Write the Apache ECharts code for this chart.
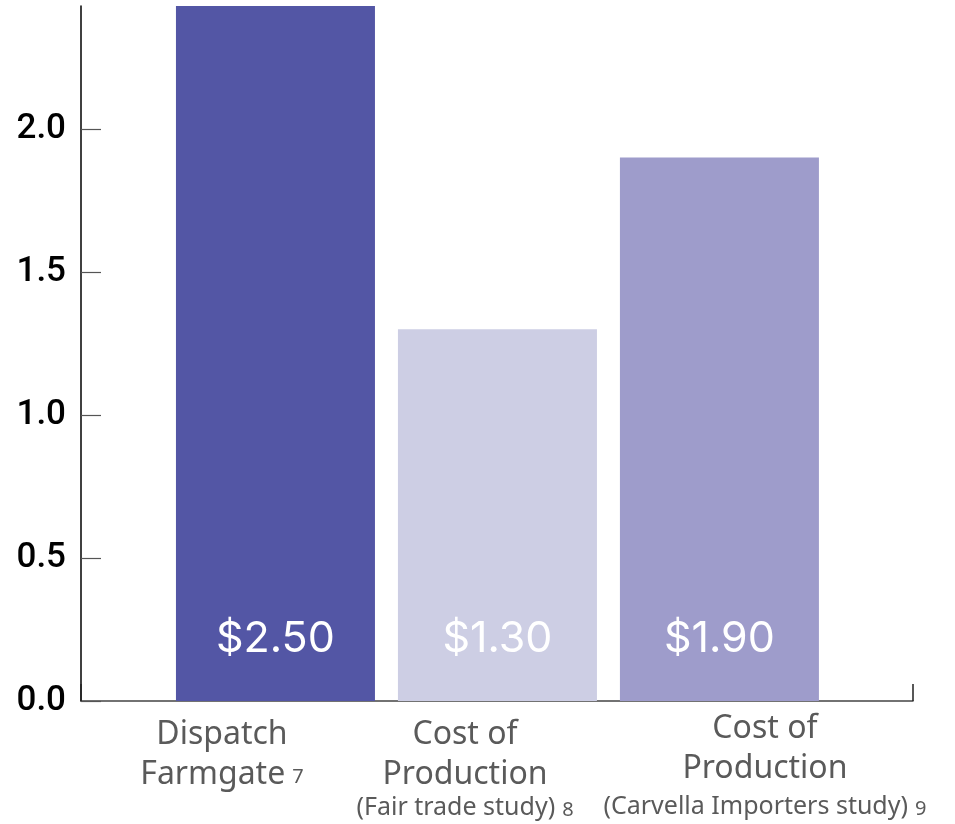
<!DOCTYPE html>
<html>
<head>
<meta charset="utf-8">
<script src="https://cdn.jsdelivr.net/npm/echarts@6/dist/echarts.min.js"></script>
<style>html,body{margin:0;padding:0;background:#fff}#c{width:955px;height:824px}</style>
</head>
<body>
<div id="c"></div>
<script>
const categories = ['Dispatch Farmgate', 'Cost of Production (Fair trade study)', 'Cost of Production (Carvella Importers study)'];
const labelLines = [['Dispatch', 'Farmgate'], ['Cost of', 'Production', '(Fair trade study)'], ['Cost of', 'Production', '(Carvella Importers study)']];
const footnotes = ['7', '8', '9'];
const values = [2.50, 1.30, 1.90];
const valueLabels = ['$2.50', '$1.30', '$1.90'];
const barColors = ['#5356A5', '#CDCEE4', '#9E9CCB'];
const yTicks = [0, 0.5, 1.0, 1.5, 2.0];

const labelAnchors = [-0.241, 0.854, 2.205];
const xMin = -0.876, xMax = 2.872;
// per-label line styles (rich keys)
const lineStyles = [['a1', 'a2'], ['a1', 'a2', 'b3'], ['c1', 'c2', 'c3']];

const chart = echarts.init(document.getElementById('c'), null, {renderer: 'canvas'});

function catLabel(i) {
  const lines = labelLines[i];
  const out = [];
  lines.forEach((t, k) => {
    const last = k === lines.length - 1;
    out.push('{' + lineStyles[i][k] + '|' + t + '}' + (last ? '{fn|' + footnotes[i] + '}' : ''));
  });
  return out.join('\n');
}

const mainFont = {fontFamily: 'Noto Sans', fontSize: 32, color: '#5a5a5a', align: 'center'};
const subFont = {fontFamily: 'Noto Sans', fontSize: 25, color: '#5a5a5a', align: 'center'};

chart.setOption({
  animation: false,
  grid: {left: 81, right: 42, top: 6, bottom: 123, containLabel: false, outerBoundsMode: 'none'},
  xAxis: {
    type: 'value', min: xMin, max: xMax, interval: xMax - xMin,
    splitLine: {show: false},
    axisLine: {show: true, onZero: false, lineStyle: {color: '#444', width: 1.5}},
    axisTick: {show: true, inside: true, length: 17, lineStyle: {color: '#222', width: 1.5}},
    axisLabel: {
      show: true,
      customValues: labelAnchors,
      margin: 14,
      formatter: function (v) {
        let idx = 0, best = 1e9;
        labelAnchors.forEach((a, i) => { if (Math.abs(a - v) < best) { best = Math.abs(a - v); idx = i; } });
        return catLabel(idx);
      },
      verticalAlign: 'top',
      rich: {
        a1: Object.assign({lineHeight: 40}, mainFont),
        a2: Object.assign({lineHeight: 40}, mainFont),
        b3: Object.assign({lineHeight: 26}, subFont),
        c1: Object.assign({lineHeight: 28}, mainFont),
        c2: Object.assign({lineHeight: 51}, mainFont),
        c3: Object.assign({lineHeight: 18}, subFont),
        fn: {fontFamily: 'Noto Sans', fontSize: 20, color: '#5a5a5a', lineHeight: 26, verticalAlign: 'middle', padding: [4, 0, 0, 7]}
      }
    }
  },
  yAxis: {
    type: 'value', min: 0, max: 2.43, interval: 0.5,
    splitLine: {show: false},
    axisLine: {show: true, onZero: false, lineStyle: {color: '#000', width: 1.5}},
    axisTick: {show: true, inside: true, length: 20, customValues: yTicks, lineStyle: {color: '#555', width: 1.2}},
    axisLabel: {
      margin: 15,
      customValues: yTicks,
      fontFamily: 'Roboto', fontWeight: 500, fontSize: 35, color: '#000',
      formatter: v => v.toFixed(1)
    }
  },
  series: [{
    type: 'bar',
    barWidth: 199,
    clip: true,
    data: values.map((v, i) => ({value: [i, v], itemStyle: {color: barColors[i]}})),
    label: {
      show: true,
      position: 'insideBottom',
      distance: 40,
      formatter: p => valueLabels[p.dataIndex],
      fontFamily: 'Inter', fontSize: 43, color: '#fff'
    }
  }]
});
</script>
</body>
</html>
